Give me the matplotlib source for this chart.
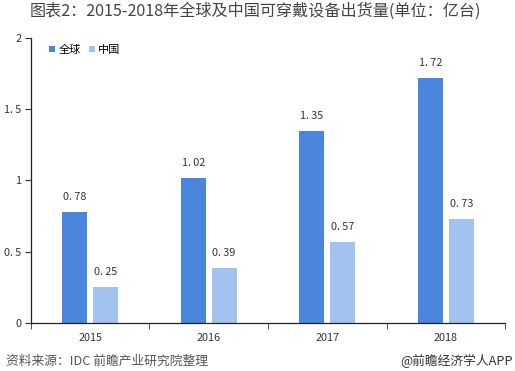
import matplotlib
matplotlib.use("Agg")
import matplotlib.pyplot as plt
import numpy as np

plt.rcParams['font.family'] = ['Noto Sans CJK SC', 'DejaVu Sans']

years = ['2015', '2016', '2017', '2018']
global_vals = [0.78, 1.02, 1.35, 1.72]
china_vals = [0.25, 0.39, 0.57, 0.73]
series_names = ['全球', '中国']
yticks = [0, 0.5, 1, 1.5, 2]
ytick_labels = ['0', '0. 5', '1', '1. 5', '2']
title = '图表2：2015-2018年全球及中国可穿戴设备出货量(单位：亿台)'
source = '资料来源：IDC 前瞻产业研究院整理'
brand = '@前瞻经济学人APP'

c_global = '#4A86DE'
c_china = '#A3C3EF'

fig = plt.figure(figsize=(5.15, 3.71), dpi=100)
ax = fig.add_axes([0.060, 0.129, 0.921, 0.769])

x = np.arange(len(years))
w = 0.21
off = 0.13
b1 = ax.bar(x - off, global_vals, width=w, color=c_global, label=series_names[0])
b2 = ax.bar(x + off, china_vals, width=w, color=c_china, label=series_names[1])

for bars, vals in ((b1, global_vals), (b2, china_vals)):
    for r, v in zip(bars, vals):
        ax.text(r.get_x() + r.get_width() / 2, v + 0.07, f'{v:.2f}'.replace('.', '. '),
                ha='center', va='bottom', fontsize=7.8, color='#333333')

ax.set_xlim(-0.5, len(years) - 0.5)
ax.set_ylim(0, 2)
ax.set_yticks(yticks)
ax.set_yticklabels(ytick_labels)
ax.set_xticks(x)
ax.set_xticklabels(years)
ax.set_xticks(np.arange(len(years) + 1) - 0.5, minor=True)
ax.tick_params(axis='x', which='major', length=0, labelsize=7.8, pad=7, colors='#333333')
ax.tick_params(axis='x', which='minor', length=4, direction='out', color='#333333')
ax.tick_params(axis='y', length=4, direction='out', labelsize=7.8, colors='#333333', pad=3)

for s in ('top', 'right'):
    ax.spines[s].set_visible(False)
for s in ('left', 'bottom'):
    ax.spines[s].set_color('#222222')
    ax.spines[s].set_linewidth(0.9)

leg = ax.legend(loc='upper left', bbox_to_anchor=(0.025, 1.0), ncol=2, frameon=False,
                fontsize=8, handlelength=0.5, handleheight=0.5, handletextpad=0.3,
                columnspacing=0.8, borderaxespad=0.2)

fig.text(0.058, 0.993, title, fontsize=11.6, color='#444444', ha='left', va='top')
fig.text(0.012, 0.008, source, fontsize=9.2, color='#555555', ha='left', va='bottom', style='italic')
fig.text(0.995, 0.008, brand, fontsize=9.2, color='#333333', ha='right', va='bottom')

fig.savefig('out.png', dpi=100)
